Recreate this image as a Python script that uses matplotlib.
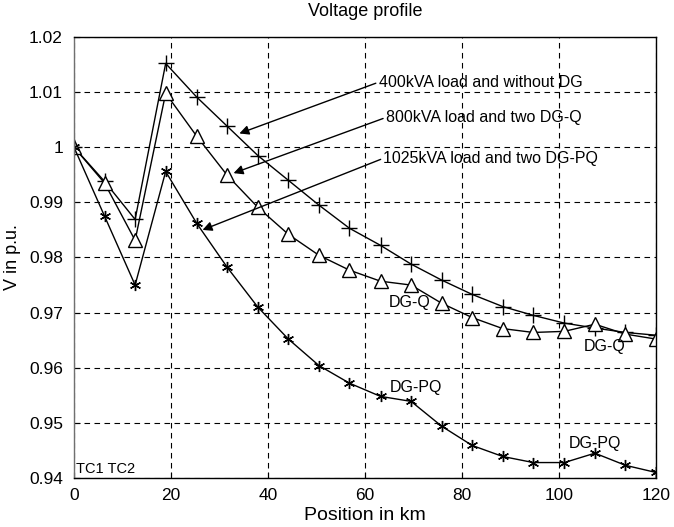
import matplotlib
matplotlib.use("Agg")
import matplotlib.pyplot as plt

# positions along the feeder (km)
position_km = [0, 6.3, 12.6, 18.9, 25.3, 31.6, 37.9, 44.2, 50.5, 56.8,
               63.2, 69.5, 75.8, 82.1, 88.4, 94.7, 101.1, 107.4, 113.7, 120]

# 400kVA load, no DG
v_no_dg = [1.0, 0.9938, 0.9869, 1.0152, 1.0091, 1.0038, 0.9985, 0.9940, 0.9895, 0.9853,
           0.9822, 0.9788, 0.9759, 0.9733, 0.9711, 0.9695, 0.9681, 0.9672, 0.9664, 0.9659]

# 800kVA load, two DG-Q
v_dg_q = [1.0, 0.9935, 0.9831, 1.0098, 1.0020, 0.9949, 0.9891, 0.9842, 0.9804, 0.9777,
          0.9757, 0.9750, 0.9717, 0.9691, 0.9671, 0.9664, 0.9666, 0.9679, 0.9661, 0.9652]

# 1025kVA load, two DG-PQ
v_dg_pq = [1.0, 0.9875, 0.9750, 0.9956, 0.9862, 0.9782, 0.9710, 0.9652, 0.9604, 0.9572,
           0.9548, 0.9539, 0.9494, 0.9459, 0.9439, 0.9428, 0.9428, 0.9445, 0.9423, 0.9410]

x_ticks = [0, 20, 40, 60, 80, 100, 120]
y_ticks = [0.94, 0.95, 0.96, 0.97, 0.98, 0.99, 1.0, 1.01, 1.02]
y_ticklabels = ["0.94", "0.95", "0.96", "0.97", "0.98", "0.99", "1", "1.01", "1.02"]

plt.rcParams["font.family"] = ["Liberation Sans", "DejaVu Sans"]

fig = plt.figure(figsize=(6.74, 5.27), dpi=100)
ax = fig.add_axes([0.1098, 0.093, 0.8635, 0.8368])

ax.plot(position_km, v_no_dg, color="black", linewidth=1, marker="+",
        markersize=11, markeredgewidth=1)
ax.plot(position_km, v_dg_q, color="black", linewidth=1, marker="^",
        markersize=10, markerfacecolor="white", markeredgewidth=1)
ax.plot(position_km, v_dg_pq, color="black", linewidth=1, marker=(6, 2, 0),
        markersize=8, markeredgewidth=1)

ax.set_xlim(0, 120)
ax.set_ylim(0.94, 1.02)
ax.set_xticks(x_ticks)
ax.set_yticks(y_ticks)
ax.set_yticklabels(y_ticklabels)
ax.tick_params(direction="in", labelsize=12.5, length=4, width=0.8)
ax.tick_params(axis="y", pad=8)
ax.tick_params(axis="x", pad=7)
ax.grid(True, color="black", linestyle=(0, (5, 4)), linewidth=0.8)
for s in ax.spines.values():
    s.set_linewidth(1)
ax.spines["left"].set_color("#707070")

ax.set_title("Voltage profile", fontsize=13, pad=15)
ax.set_xlabel("Position in km", fontsize=14, labelpad=3)
ax.set_ylabel("V in p.u.", fontsize=13, labelpad=6)

# annotations with arrows, starting at the left edge of each label
arrow = dict(arrowstyle="-|>", color="black", lw=1, mutation_scale=14,
             shrinkA=0, shrinkB=0, relpos=(0, 0.5))
ax.annotate("400kVA load and without DG", xy=(34.1, 1.0025), xytext=(62.8, 1.0118),
            fontsize=11.5, va="center", ha="left", arrowprops=arrow)
ax.annotate("800kVA load and two DG-Q", xy=(32.9, 0.9953), xytext=(64.3, 1.0054),
            fontsize=11.5, va="center", ha="left", arrowprops=arrow)
ax.annotate("1025kVA load and two DG-PQ", xy=(26.5, 0.9850), xytext=(63.8, 0.9980),
            fontsize=11.5, va="center", ha="left", arrowprops=arrow)

ax.text(64.9, 0.9718, "DG-Q", fontsize=11.5, va="center", ha="left")
ax.text(105.2, 0.9639, "DG-Q", fontsize=11.5, va="center", ha="left")
ax.text(65.1, 0.9564, "DG-PQ", fontsize=11.5, va="center", ha="left")
ax.text(102.0, 0.9463, "DG-PQ", fontsize=11.5, va="center", ha="left")
ax.text(0.4, 0.9404, "TC1 TC2", fontsize=10.5, va="bottom", ha="left")

fig.savefig("out.png", dpi=100)
